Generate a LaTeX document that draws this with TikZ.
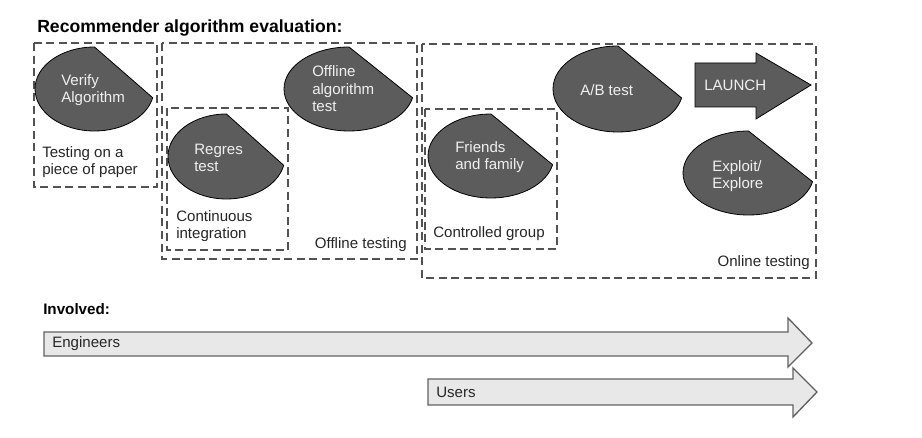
\documentclass[tikz,border=0pt]{standalone}
\usepackage{fontspec}
\setmainfont{Liberation Sans}
\usepackage{tikz}
\usetikzlibrary{positioning}
\tikzset{
  headline/.style={anchor=west, inner sep=0pt, font=\fontsize{13.2}{15}\selectfont\bfseries},
  evalbox/.style={draw=black!68, line width=1pt, dash pattern=on 6pt off 3.4pt},
  blobshape/.style={fill=black!64, draw=black, line width=0.6pt},
  blobtext/.style={anchor=west, inner sep=0pt, align=left, text=white!94!black,
                   font=\fontsize{11.3}{13.2}\selectfont},
  boxlabel/.style={anchor=west, inner sep=0pt, align=left, text=black!85,
                   font=\fontsize{11.3}{13.2}\selectfont},
  whoarrow/.style={fill=black!9, draw=black!62, line width=1pt, line join=miter},
  launcharrow/.style={fill=black!64, draw=black, line width=0.6pt, line join=miter}
}

\begin{document}
\begin{tikzpicture}[x=0.75pt, y=0.75pt]
  \useasboundingbox (0,0) rectangle (922,-438);

  % Title
  \node[headline] (title) at (37,-28) {Recommender algorithm evaluation:};

  % Dashed stage boxes
  \draw[evalbox] (34,-43) rectangle (157,-187);
  \draw[evalbox] (162,-43) rectangle (417,-259);
  \draw[evalbox] (167,-108) rectangle (288,-250);
  \draw[evalbox] (422,-44) rectangle (816,-278);
  \draw[evalbox] (425,-109) rectangle (557,-249);

  % Blobs (centre x / centre y / x radius / y radius)
  \foreach \cx/\cy/\rx/\ry in {94.5/89/59.5/42, 226.5/156.5/58.5/42.5, 349/89/65/42,
                              491/156/63/42, 618/89/65/43, 748.5/173/65.5/42}
    \draw[blobshape] (\cx,{-\cy+\ry}) arc[start angle=90, end angle=348,
                     x radius=\rx, y radius=\ry] -- cycle;

  % Launch arrow
  \draw[launcharrow] (695,-63) -- (756,-63) -- (756,-53) -- (811,-85)
                     -- (756,-119) -- (756,-107) -- (695,-107) -- cycle;

  % Blob texts
  \node[blobtext] (verify) at (61,-90) {Verify\\Algorithm};
  \node[blobtext] (regres) at (194,-158) {Regres\\test};
  \node[blobtext] (offalg) at (312,-89) {Offline\\algorithm\\test};
  \node[blobtext] (friends) at (455,-157) {Friends\\and family};
  \node[blobtext] (abtest) at (580,-90) {A/B test};
  \node[blobtext] (exploit) at (712,-176) {Exploit/\\Explore};
  \node[blobtext] (launch) at (704,-85) {LAUNCH};

  % Box labels
  \node[boxlabel] (paper) at (42,-162) {Testing on a\\piece of paper};
  \node[boxlabel] (ci) at (176,-226) {Continuous\\integration};
  \node[boxlabel, anchor=east] (offline) at (407,-245) {Offline testing};
  \node[boxlabel] (controlled) at (433,-234) {Controlled group};
  \node[boxlabel, anchor=east] (online) at (810,-263) {Online testing};

  % Involved
  \node[headline, font=\fontsize{11.4}{13}\selectfont\bfseries] (involved) at (43,-309) {Involved:};
  \draw[whoarrow] (44,-332) -- (788,-332) -- (788,-318) -- (812,-343)
                  -- (788,-367) -- (788,-356) -- (44,-356) -- cycle;
  \draw[whoarrow] (428,-379) -- (793,-379) -- (793,-368) -- (817,-392)
                  -- (793,-417) -- (793,-405) -- (428,-405) -- cycle;
  \node[boxlabel] (engineers) at (52,-344) {Engineers};
  \node[boxlabel] (users) at (436,-392) {Users};
\end{tikzpicture}
\end{document}
